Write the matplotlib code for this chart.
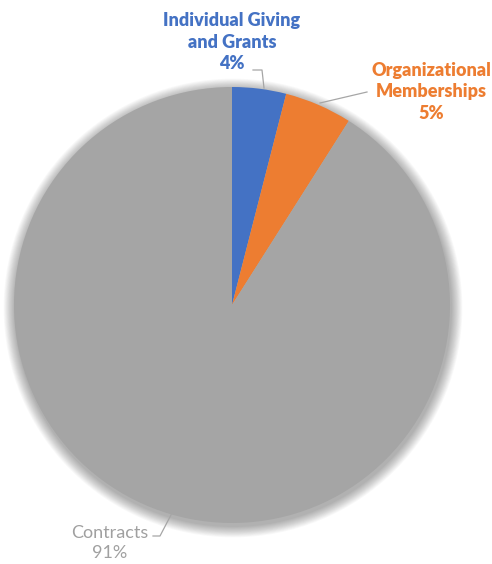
import matplotlib

matplotlib.use("Agg")
import matplotlib.pyplot as plt
from matplotlib.patches import Circle

labels = ["Individual Giving\nand Grants", "Organizational\nMemberships", "Contracts"]
shares = [4, 5, 91]
colors = ["#4472C4", "#ED7D31", "#A5A5A5"]
text_colors = ["#4472C4", "#ED7D31", "#A0A0A0"]
text_weights = ["heavy", "heavy", "normal"]

W, H = 492, 564
fig = plt.figure(figsize=(W / 100, H / 100), dpi=100)
ax = fig.add_axes([0, 0, 1, 1])

cx, cy, r = 232, H - 305, 218

# soft drop shadow around the pie
for i in range(14):
    ax.add_patch(Circle((cx + 1, cy - 3), r + 1 + i * 0.8, color="black",
                        alpha=0.025, lw=0, zorder=0))

ax.pie(shares, colors=colors, startangle=90, counterclock=False,
       center=(cx, cy), radius=r, frame=True,
       wedgeprops=dict(linewidth=0, zorder=1))
ax.set_xlim(0, W)
ax.set_ylim(0, H)
ax.set_aspect("equal")
ax.axis("off")

font = dict(family=["Lato", "DejaVu Sans"], fontsize=13,
            ha="center", va="center", linespacing=1.35)

# label centres (image pixels, y measured from top)
pos = [(232, 42), (431, 92), (110, 543)]
for lab, s, c, w, (x, y) in zip(labels, shares, text_colors, text_weights, pos):
    ax.text(x, H - y, f"{lab}\n{s}%", color=c, fontweight=w, **font)

lc = "#A6A6A6"
ax.plot([253, 262, 264], [H - 70, H - 70, H - 88], color=lc, lw=0.9)
ax.plot([320, 367], [H - 103, H - 92], color=lc, lw=0.9)
ax.plot([153, 160, 172], [H - 536, H - 536, H - 513], color=lc, lw=0.9)

fig.savefig("out.png", dpi=100, facecolor="white")
